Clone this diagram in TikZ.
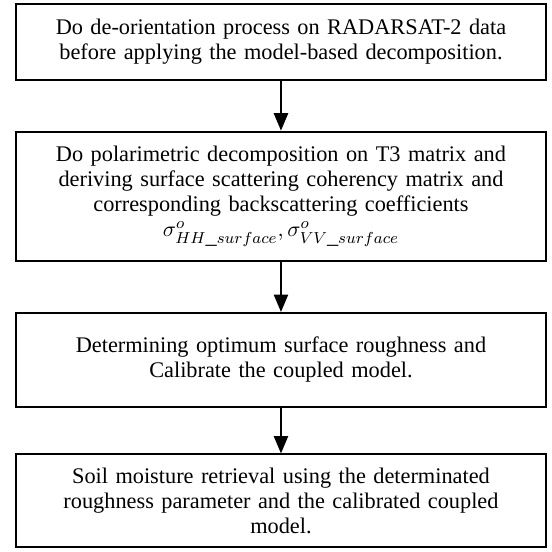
\documentclass[tikz,border=0pt]{standalone}
\usepackage{fontspec}
\setmainfont{Liberation Serif}
\usetikzlibrary{positioning,calc,arrows}
\tikzstyle{procbox} = [draw, rectangle, line width=1pt, text width=266pt, inner xsep=0pt, align=center, font=\fontsize{11.2}{12.5}\selectfont]
\tikzstyle{flow} = [-triangle 45, line width=1pt]

\begin{document}
\begin{tikzpicture}[node distance=25pt]
\node[procbox, minimum height=38pt] (deorient) {Do de-orientation process on RADARSAT-2 data\\before applying the model-based decomposition.};
\node[procbox, minimum height=65pt, below=of deorient] (decomp) {Do polarimetric decomposition on T3 matrix and\\deriving surface scattering coherency matrix and\\corresponding backscattering coefficients\\$\sigma^{o}_{HH\_surface}, \sigma^{o}_{VV\_surface}$\\[5pt]};
\node[procbox, minimum height=47pt, below=of decomp] (calib) {Determining optimum surface roughness and\\Calibrate the coupled model.};
\node[procbox, minimum height=46.5pt, below=23pt of calib] (retrieve) {Soil moisture retrieval using the determinated\\roughness parameter and the calibrated coupled\\model.};
\draw[flow] (deorient) -- (decomp);
\draw[flow] (decomp) -- (calib);
\draw[flow] (calib) -- (retrieve);
\useasboundingbox ($(deorient.north west)+(-7.5pt,1.5pt)$) rectangle ($(retrieve.south east)+(2.5pt,-2pt)$);
\end{tikzpicture}
\end{document}
